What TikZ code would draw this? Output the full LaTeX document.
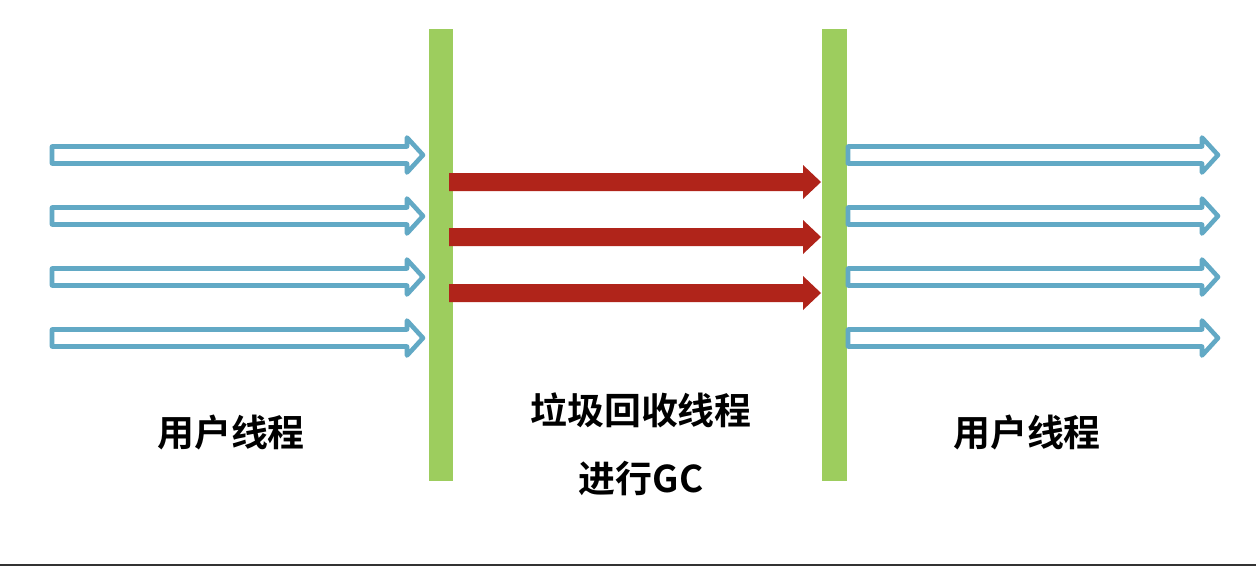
\documentclass[tikz,border=0pt]{standalone}
\usepackage{fontspec}
\newfontfamily\cjk{Noto Sans CJK SC Bold}
\usepackage{xcolor}
\usetikzlibrary{calc}
\definecolor{barGreen}{HTML}{9DCD5E}
\definecolor{threadBlue}{HTML}{62A9C5}
\definecolor{gcRed}{HTML}{B0241A}
\definecolor{edgeGray}{HTML}{333333}
\tikzset{
  label text/.style={font=\cjk\fontsize{21}{25}\selectfont, inner sep=0pt},
  hollow/.style={draw=threadBlue, line width=2.6pt, line join=round, fill=white},
  solid arrow/.style={fill=gcRed, draw=none}
}
\begin{document}
\begin{tikzpicture}[x=0.02cm,y=-0.02cm]
\useasboundingbox (0,0) rectangle (1256,566);
\fill[white] (0,0) rectangle (1256,566);
% pause bars
\fill[barGreen] (429,29) rectangle (453,481);
\fill[barGreen] (822,29) rectangle (847,481);
% user threads before and after
\foreach \y in {155,216,277,338}{
  \draw[hollow] (52,\y-8.5) -- (407,\y-8.5) -- (407,\y-17.5) -- (423,\y)
    -- (407,\y+17.5) -- (407,\y+8.5) -- (52,\y+8.5) -- cycle;
  \draw[hollow] (848,\y-8.5) -- (1202,\y-8.5) -- (1202,\y-17.5) -- (1218,\y)
    -- (1202,\y+17.5) -- (1202,\y+8.5) -- (848,\y+8.5) -- cycle;
}
% gc threads
\foreach \y in {182,237,293}{
  \fill[solid arrow] (449,\y-9) -- (803,\y-9) -- (803,\y-17) -- (821,\y)
    -- (803,\y+17) -- (803,\y+9) -- (449,\y+9) -- cycle;
}
\node[label text] (userL) at (231,433) {用户线程};
\node[label text] (gcA) at (641,410) {垃圾回收线程};
\node[label text] (gcB) at (641,478) {进行GC};
\node[label text] (userR) at (1027,433) {用户线程};
% bottom edge
\fill[edgeGray] (0,563.5) rectangle (1256,566);
\end{tikzpicture}
\end{document}
